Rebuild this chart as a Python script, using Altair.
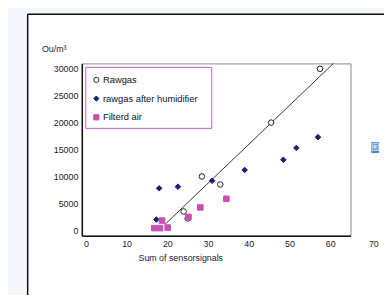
import altair as alt
import pandas as pd

# ---- data ----
series_names = ["Rawgas", "rawgas after humidifier", "Filterd air"]

raw_x = [24.0, 25.0, 28.5, 33.0, 45.5, 57.5]
raw_y = [3500, 2200, 10000, 8500, 20000, 30000]

hum_x = [17.3, 18.0, 22.6, 31.0, 39.0, 48.5, 51.7, 57.0]
hum_y = [2000, 7800, 8100, 9200, 11200, 13100, 15300, 17300]

filt_x = [16.8, 18.2, 20.1, 18.7, 25.2, 28.1, 34.5]
filt_y = [400, 400, 500, 1800, 2500, 4250, 5850]

trend_x = [19.3, 60.8]
trend_y = [1000, 31000]

x_ticks = [0, 10, 20, 30, 40, 50, 60]
y_ticks = [0, 5000, 10000, 15000, 20000, 25000, 30000]
extra_x_label = [70]

# ---- tables ----
rows = []
for name, xs, ys in zip(series_names, [raw_x, hum_x, filt_x], [raw_y, hum_y, filt_y]):
    for a, b in zip(xs, ys):
        rows.append({"series": name, "x": a, "y": b})
pts = pd.DataFrame(rows)
trend = pd.DataFrame({"x": trend_x, "y": trend_y})
one = pd.DataFrame({"a": [0]})
extra = pd.DataFrame({"x": extra_x_label, "label": [str(v) for v in extra_x_label]})

FONT = "Liberation Sans"
W, H = 273, 175
xscale = alt.Scale(domain=[-1, 65], nice=False, zero=False)
yscale = alt.Scale(domain=[-1000, 31000], nice=False, zero=False)
PAGE = "#f3f6fa"

X = alt.X("x:Q", scale=xscale,
          axis=alt.Axis(values=x_ticks, title="Sum of sensorsignals", titleX=100, titleY=22,
                        titleAnchor="start", titleAlign="center", titleBaseline="middle",
                        labelOverlap=False))
Y = alt.Y("y:Q", scale=yscale,
          axis=alt.Axis(values=y_ticks, format="d", title="Ou/m³", titleAngle=0,
                        titleX=-41, titleY=-15, titleAlign="left", titleBaseline="middle",
                        labelOverlap=False))

# light page strips outside the black-bordered frame
strip_left = alt.Chart(one).mark_rect(fill=PAGE).encode(
    x=alt.value(-80), x2=alt.value(-55), y=alt.value(-60), y2=alt.value(320)
)
strip_top = alt.Chart(one).mark_rect(fill=PAGE).encode(
    x=alt.value(-80), x2=alt.value(420), y=alt.value(-60), y2=alt.value(-50)
)
frame_left = alt.Chart(one).mark_rule(color="#111", strokeWidth=1.5).encode(
    x=alt.value(-55), y=alt.value(-50), y2=alt.value(320)
)
frame_top = alt.Chart(one).mark_rule(color="#111", strokeWidth=1.5).encode(
    x=alt.value(-55), x2=alt.value(420), y=alt.value(-50)
)

legend_box = alt.Chart(one).mark_rect(fill="white", stroke="#c060c0", strokeWidth=1).encode(
    x=alt.value(4), x2=alt.value(132), y=alt.value(4), y2=alt.value(66)
)

line = alt.Chart(trend).mark_line(color="#333", strokeWidth=1).encode(x=X, y=Y)

leg = alt.Legend(orient="none", legendX=10, legendY=12, title=None)
points = alt.Chart(pts).mark_point(strokeWidth=1, opacity=1, fillOpacity=1).encode(
    x=X,
    y=Y,
    shape=alt.Shape("series:N", scale=alt.Scale(domain=series_names, range=["circle", "diamond", "square"]),
                    legend=leg),
    fill=alt.Fill("series:N", scale=alt.Scale(domain=series_names, range=["white", "#1b2070", "#c94fb0"]),
                  legend=leg),
    stroke=alt.Stroke("series:N", scale=alt.Scale(domain=series_names, range=["#222", "#1b2070", "#c94fb0"]),
                      legend=leg),
    size=alt.value(32),
)

extra_label = alt.Chart(extra).mark_text(font=FONT, fontSize=9, color="#222", dx=3).encode(
    x=alt.X("x:Q", scale=xscale), y=alt.value(H + 9), text="label:N"
)

icon = alt.Chart(one).mark_rect(fill="#3b8fd9").encode(
    x=alt.value(294), x2=alt.value(302), y=alt.value(80), y2=alt.value(91)
)
icon_t = alt.Chart(one).mark_text(text="图", font="Noto Sans CJK SC", fontSize=8, color="white").encode(
    x=alt.value(298), y=alt.value(85.5)
)

chart = alt.layer(strip_left, strip_top, frame_left, frame_top, legend_box, line, points,
                  extra_label, icon, icon_t).properties(
    width=W, height=H,
    autosize=alt.AutoSizeParams(type="none"),
    padding={"left": 75, "top": 54, "right": 34, "bottom": 58},
    background="white",
).configure_view(
    stroke="#888", strokeWidth=1
).configure_axis(
    grid=False, ticks=False, labelFont=FONT, labelFontSize=9, labelColor="#222",
    titleFont=FONT, titleFontSize=9, titleFontWeight="normal", titleColor="#222",
    domainColor="#111", domainWidth=1.5, zindex=1, labelOverlap=False,
).configure_axisX(
    labelPadding=4
).configure_axisY(
    labelPadding=4
).configure_legend(
    padding=0, rowPadding=8, labelFont=FONT, labelFontSize=9.5, labelColor="#111",
    symbolSize=28, symbolStrokeWidth=1, labelOffset=2, symbolOffset=0
)

chart.save("out.html", embed_options={"renderer": "svg", "actions": False})
